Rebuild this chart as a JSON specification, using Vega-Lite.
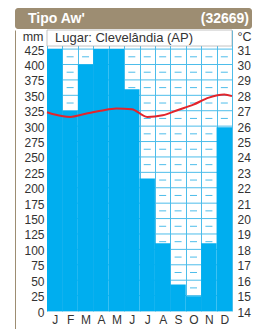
{
  "$schema": "https://vega.github.io/schema/vega-lite/v6.json",
  "padding": {"left": 15, "top": 8, "right": 3, "bottom": 0},
  "spacing": 0,
  "background": "white",
  "config": {
    "view": {"stroke": null},
    "font": "Liberation Sans",
    "axis": {"labelFont": "Liberation Sans", "titleFont": "Liberation Sans", "labelColor": "#333333", "titleColor": "#333333", "labelFontSize": 12, "titleFontSize": 12.5, "titleFontWeight": "normal", "domain": false, "ticks": false, "labelOverlap": false, "labelFlush": false}
  },
  "datasets": {
    "months": [
      {"mes": "Jan", "p": 425}, {"mes": "Fev", "p": 325}, {"mes": "Mar", "p": 400},
      {"mes": "Abr", "p": 425}, {"mes": "Mai", "p": 425}, {"mes": "Jun", "p": 360},
      {"mes": "Jul", "p": 215}, {"mes": "Ago", "p": 110}, {"mes": "Set", "p": 43},
      {"mes": "Out", "p": 24}, {"mes": "Nov", "p": 110}, {"mes": "Dez", "p": 298}
    ],
    "temp": [
      {"pos": 0, "t": 26.9}, {"pos": 0.5, "t": 26.75}, {"pos": 1.5, "t": 26.6},
      {"pos": 2.5, "t": 26.8}, {"pos": 3.5, "t": 27.0}, {"pos": 4.5, "t": 27.15},
      {"pos": 5.5, "t": 27.1}, {"pos": 6.5, "t": 26.6}, {"pos": 7.5, "t": 26.7},
      {"pos": 8.5, "t": 27.05}, {"pos": 9.5, "t": 27.4}, {"pos": 10.5, "t": 27.85},
      {"pos": 11.5, "t": 28.05}, {"pos": 12, "t": 27.95}
    ],
    "lines": [
      {"v": 0}, {"v": 25}, {"v": 50}, {"v": 75}, {"v": 100}, {"v": 125}, {"v": 150},
      {"v": 175}, {"v": 200}, {"v": 225}, {"v": 250}, {"v": 275}, {"v": 300}, {"v": 325},
      {"v": 350}, {"v": 375}, {"v": 400}, {"v": 425}
    ],
    "halves": [
      {"v": 12.5}, {"v": 37.5}, {"v": 62.5}, {"v": 87.5}, {"v": 112.5}, {"v": 137.5},
      {"v": 162.5}, {"v": 187.5}, {"v": 212.5}, {"v": 237.5}, {"v": 262.5}, {"v": 287.5},
      {"v": 312.5}, {"v": 337.5}, {"v": 362.5}, {"v": 387.5}, {"v": 412.5}
    ],
    "header": [{"label": "Tipo Aw'", "side": "L"}, {"label": "(32669)", "side": "R"}]
  },
  "vconcat": [
    {
      "width": 237,
      "height": 21,
      "view": {"fill": "#9d8d72", "stroke": null, "cornerRadius": 3},
      "data": {"name": "header"},
      "encoding": {
        "x": {"field": "side", "type": "nominal", "scale": {"type": "point", "padding": 0}, "axis": null},
        "text": {"field": "label"}
      },
      "layer": [
        {"transform": [{"filter": "datum.side == 'L'"}], "mark": {"type": "text", "align": "left", "dx": 13, "baseline": "middle", "color": "white", "fontWeight": "bold", "fontSize": 14, "font": "Liberation Sans"}},
        {"transform": [{"filter": "datum.side == 'R'"}], "mark": {"type": "text", "align": "right", "dx": -3, "baseline": "middle", "color": "white", "fontWeight": "bold", "fontSize": 14, "font": "Liberation Sans"}}
      ]
    },
    {
      "width": 237,
      "height": 281,
      "resolve": {"scale": {"x": "independent", "y": "independent"}, "axis": {"x": "independent", "y": "independent"}},
      "layer": [
        {
          "layer": [
            {
              "data": {"name": "lines"},
              "mark": {"type": "rule", "color": "#4dbdea", "strokeWidth": 1},
              "encoding": {
                "x": {"datum": 0, "type": "quantitative", "scale": {"domain": [0, 12], "range": [32, 217], "nice": false}, "axis": null},
                "x2": {"datum": 12},
                "y": {"field": "v", "type": "quantitative", "scale": {"domain": [-30.83, 456], "range": [300, 0], "nice": false, "zero": false},
                  "axis": {"orient": "left", "labels": false, "grid": false, "title": null, "domain": true, "domainColor": "#9d8d72", "domainWidth": 1}}
              }
            },
            {
              "data": {"name": "halves"},
              "mark": {"type": "rule", "color": "#4dbdea", "strokeWidth": 1, "strokeDash": [7, 8.42], "strokeDashOffset": 11.2},
              "encoding": {
                "x": {"datum": 0, "type": "quantitative"},
                "x2": {"datum": 12},
                "y": {"field": "v", "type": "quantitative"}
              }
            },
            {
              "data": {"values": [{}]},
              "mark": {"type": "rect", "fill": "white", "stroke": "#aaaaaa", "strokeWidth": 0.7},
              "encoding": {
                "x": {"datum": 0, "type": "quantitative"},
                "x2": {"datum": 12},
                "y": {"datum": 430, "type": "quantitative"},
                "y2": {"datum": 456}
              }
            },
            {
              "data": {"values": [{"lugar": "Lugar: Clevelândia (AP)"}]},
              "mark": {"type": "text", "fontSize": 13, "color": "#333333", "align": "left", "dx": 8, "baseline": "middle", "font": "Liberation Sans"},
              "encoding": {
                "text": {"field": "lugar"},
                "x": {"datum": 0, "type": "quantitative"},
                "y": {"datum": 443, "type": "quantitative"}
              }
            }
          ]
        },
        {
          "data": {"name": "months"},
          "mark": {"type": "bar", "color": "#00aeef"},
          "encoding": {
            "x": {"field": "mes", "type": "ordinal", "sort": null, "scale": {"range": [32, 217], "paddingInner": 0, "paddingOuter": 0},
              "axis": {"orient": "bottom", "title": null, "labelExpr": "substring(datum.label, 0, 1)", "labelAngle": 0, "grid": true, "tickBand": "extent", "gridColor": "#4dbdea", "labelPadding": 3}},
            "y": {"field": "p", "type": "quantitative", "scale": {"domain": [0, 456], "nice": false},
              "axis": {"orient": "left", "offset": -32, "values": [0, 25, 50, 75, 100, 125, 150, 175, 200, 225, 250, 275, 300, 325, 350, 375, 400, 425], "grid": false, "labelPadding": 3, "labelOffset": 1, "title": "mm", "titleAngle": 0, "titleAlign": "right", "titleBaseline": "alphabetic", "titleX": -4, "titleY": 10}}
          }
        },
        {
          "data": {"name": "temp"},
          "mark": {"type": "line", "color": "#e3242b", "strokeWidth": 2, "interpolate": "monotone"},
          "encoding": {
            "x": {"field": "pos", "type": "quantitative", "scale": {"domain": [0, 12], "range": [32, 217], "nice": false}, "axis": null},
            "y": {"field": "t", "type": "quantitative", "scale": {"domain": [14, 32.24], "nice": false, "zero": false},
              "axis": {"orient": "right", "offset": -20, "values": [14, 15, 16, 17, 18, 19, 20, 21, 22, 23, 24, 25, 26, 27, 28, 29, 30, 31], "grid": false, "labelPadding": 5, "labelOffset": 1, "title": "°C", "titleAngle": 0, "titleAlign": "left", "titleBaseline": "alphabetic", "titleX": 5, "titleY": 10}}
          }
        }
      ]
    }
  ]
}
